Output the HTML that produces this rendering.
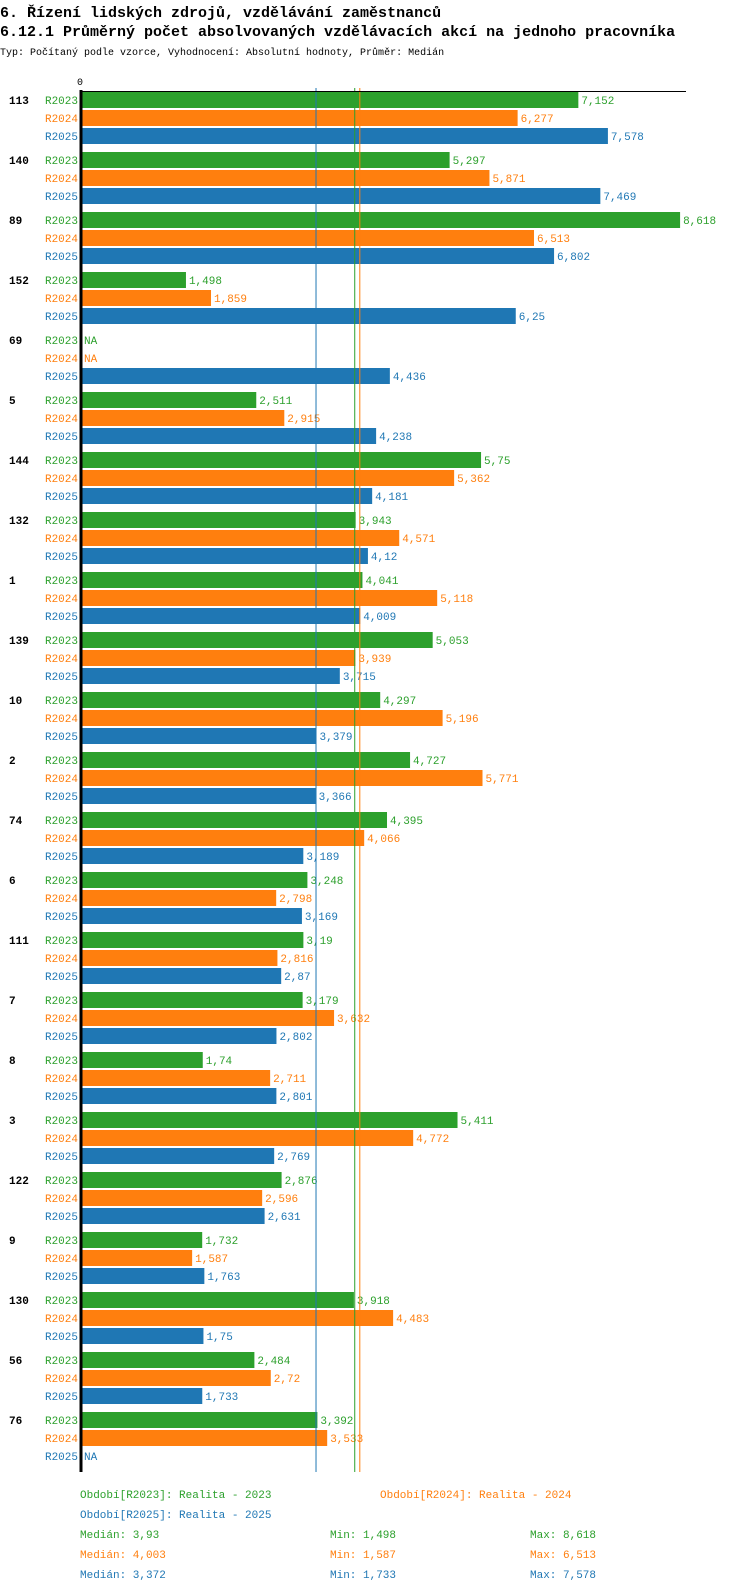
<!DOCTYPE html>
<html><head><meta charset="utf-8"><style>
body{margin:0;background:#fff;width:750px;height:1592px;overflow:hidden;font-family:"Liberation Mono",monospace}
svg{display:block}
</style></head><body>
<svg id="chart" width="750" height="1592" xmlns="http://www.w3.org/2000/svg" font-family="Liberation Mono, monospace">
<text x="0" y="17" font-size="15" font-weight="bold">6. Řízení lidských zdrojů, vzdělávání zaměstnanců</text>
<text x="0" y="36" font-size="15" font-weight="bold">6.12.1 Průměrný počet absolvovaných vzdělávacích akcí na jednoho pracovníka</text>
<text x="0" y="55" font-size="10">Typ: Počítaný podle vzorce, Vyhodnocení: Absolutní hodnoty, Průměr: Medián</text>
<g id="plot"></g>
</svg>
<script>
const categories=["113","140","89","152","69","5","144","132","1","139","10","2","74","6","111","7","8","3","122","9","130","56","76"];
const seriesNames=["R2023","R2024","R2025"];
const r2023=[7.152,5.297,8.618,1.498,null,2.511,5.75,3.943,4.041,5.053,4.297,4.727,4.395,3.248,3.19,3.179,1.74,5.411,2.876,1.732,3.918,2.484,3.392];
const r2024=[6.277,5.871,6.513,1.859,null,2.915,5.362,4.571,5.118,3.939,5.196,5.771,4.066,2.798,2.816,3.632,2.711,4.772,2.596,1.587,4.483,2.72,3.533];
const r2025=[7.578,7.469,6.802,6.25,4.436,4.238,4.181,4.12,4.009,3.715,3.379,3.366,3.189,3.169,2.87,2.802,2.801,2.769,2.631,1.763,1.75,1.733,null];
const medians=[3.93,4.003,3.372];
const mins=[1.498,1.587,1.733];
const maxs=[8.618,6.513,7.578];
const colors=["#2ca02c","#ff7f0e","#1f77b4"];
const NS="http://www.w3.org/2000/svg";
const g=document.getElementById('plot');
const X0=82,SCALE=69.4,TOP=92,GP=60,RP=18,BH=16,BOTTOM=1472;
const x=v=>X0+v*SCALE;
const fmt=v=>String(v).replace('.',',');
function mk(tag,a,txt){const e=document.createElementNS(NS,tag);for(const k in a)e.setAttribute(k,a[k]);if(txt!==undefined)e.textContent=txt;g.appendChild(e);return e;}
const all=[r2023,r2024,r2025];
categories.forEach((c,i)=>{
  const gy=TOP+i*GP;
  let t=mk('text',{x:9,y:gy+RP/2+4+RP/2-9+5,'font-size':11,'font-weight':'bold'},c);
  t.setAttribute('y',gy+12);
  
  
  all.forEach((s,j)=>{
    const y=gy+j*RP;
    const l=mk('text',{x:78,y:y+12,'font-size':11,'text-anchor':'end',fill:colors[j]},seriesNames[j]);
    
    
    const v=s[i];
    if(v===null){
      const n=mk('text',{x:84,y:y+12,'font-size':11,fill:colors[j]},'NA');
      
      
      return;
    }
    const b=mk('rect',{x:X0,y:y,width:x(v)-X0,height:BH,fill:colors[j]});
    
    
    const vl=mk('text',{x:x(v)+3,y:y+12,'font-size':11,fill:colors[j]},fmt(v));
    
    
  });
});
medians.forEach((m,j)=>{
  const l=mk('line',{x1:x(m),x2:x(m),y1:88,y2:BOTTOM,stroke:colors[j],'stroke-width':1});
  
  
});
const ax=mk('line',{x1:81,x2:81,y1:90,y2:BOTTOM,stroke:'#000','stroke-width':3});


const tx=mk('line',{x1:80,x2:686,y1:91.5,y2:91.5,stroke:'#000','stroke-width':1});


const z=mk('text',{x:80,y:85,'font-size':10,'text-anchor':'middle'},'0');


const leg=[["Období[R2023]: Realita - 2023",80,1498,0],["Období[R2024]: Realita - 2024",380,1498,1],["Období[R2025]: Realita - 2025",80,1518,2]];
leg.forEach(([s,lx,ly,j])=>{
  const e=mk('text',{x:lx,y:ly,'font-size':11,fill:colors[j]},s);
  
  
});
[0,1,2].forEach(j=>{
  const yy=1538+j*20;
  const a=mk('text',{x:80,y:yy,'font-size':11,fill:colors[j]},'Medián: '+fmt(medians[j]));
  
  
  const b=mk('text',{x:330,y:yy,'font-size':11,fill:colors[j]},'Min: '+fmt(mins[j]));
  
  
  const c=mk('text',{x:530,y:yy,'font-size':11,fill:colors[j]},'Max: '+fmt(maxs[j]));
  
  
});
</script>
</body></html>
